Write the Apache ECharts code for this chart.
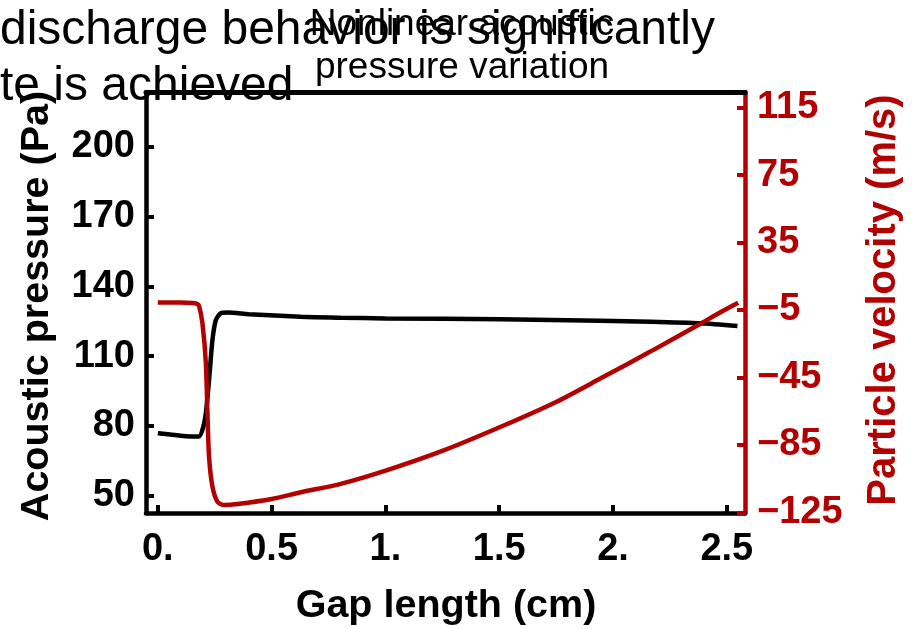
<!DOCTYPE html>
<html><head><meta charset="utf-8">
<script src="https://cdn.jsdelivr.net/npm/echarts@6/dist/echarts.min.js"></script>
<style>html,body{margin:0;padding:0;background:#fff}#c{width:918px;height:629px}</style>
</head><body><div id="c"></div>
<script>
// Gap length (cm) sample positions and acoustic pressure (Pa), left axis
const pressureX = [0, 0.1, 0.18, 0.2, 0.211, 0.225, 0.24, 0.255, 0.277, 0.306, 0.4, 0.628, 0.804, 1.0, 1.507, 1.946, 2.166, 2.386, 2.547];
const pressure  = [76.8, 75.8, 75.4, 79.7, 85.4, 99.7, 116.9, 125.5, 128.4, 128.7, 128.0, 126.9, 126.5, 126.2, 125.8, 125.2, 124.8, 124.1, 122.9];
// Particle velocity (m/s), right axis
const velocityX = [0, 0.1, 0.15, 0.17, 0.181, 0.196, 0.211, 0.218, 0.225, 0.24, 0.262, 0.291, 0.35, 0.5, 0.628, 0.804, 0.994, 1.25, 1.507, 1.75, 1.946, 2.166, 2.386, 2.47, 2.55];
const velocity  = [-0.6, -0.6, -0.8, -1.2, -2.5, -12.9, -36.4, -66.0, -91.9, -109.7, -118.6, -120.6, -120.0, -117.0, -113.0, -108.0, -100.5, -88.5, -74.2, -59.5, -45.5, -29.5, -13.0, -6.5, -0.7];
// Tick values
const xTicks = [0, 0.5, 1, 1.5, 2, 2.5];
const pTicks = [50, 80, 110, 140, 170, 200];
const vTicks = [-125, -85, -45, -5, 35, 75, 115];

const RED = '#b30000';
const FF = '"Liberation Sans", Arial, sans-serif';
const tickFont = {fontFamily: FF, fontWeight: 'bold', fontSize: 38};

const chart = echarts.init(document.getElementById('c'), null, {renderer: 'canvas'});
chart.setOption({
  animation: false,
  backgroundColor: '#fff',
  grid: {left: 146, right: 173, top: 92, bottom: 116, containLabel: false},
  xAxis: [{
    type: 'value', min: -0.052, max: 2.58, position: 'bottom',
    axisLine: {show: true, onZero: false, lineStyle: {color: '#000', width: 4.5}},
    axisTick: {show: true, inside: true, length: 8, lineStyle: {color: '#000', width: 4}, customValues: xTicks},
    axisLabel: Object.assign({color: '#000', margin: 18, customValues: xTicks,
      formatter: v => Number.isInteger(v) ? v + '.' : String(v)}, tickFont),
    splitLine: {show: false}
  }, {
    type: 'value', min: -0.052, max: 2.58, position: 'top',
    axisLine: {show: true, onZero: false, lineStyle: {color: '#000', width: 5}},
    axisTick: {show: false}, axisLabel: {show: false}, splitLine: {show: false}
  }],
  yAxis: [{
    type: 'value', min: 42.56, max: 223.5, position: 'left',
    axisLine: {show: true, onZero: false, lineStyle: {color: '#000', width: 4.5}},
    axisTick: {show: true, inside: true, length: 8, lineStyle: {color: '#000', width: 4}, customValues: pTicks},
    axisLabel: Object.assign({color: '#000', margin: 11, customValues: pTicks}, tickFont),
    splitLine: {show: false}
  }, {
    type: 'value', min: -125.3, max: 124.2, position: 'right',
    axisLine: {show: true, onZero: false, lineStyle: {color: RED, width: 4.5}},
    axisTick: {show: true, inside: true, length: 8, lineStyle: {color: RED, width: 4}, customValues: vTicks},
    axisLabel: Object.assign({color: RED, margin: 12, customValues: vTicks,
      formatter: v => String(v).replace('-', '\u2212')}, tickFont),
    splitLine: {show: false}
  }],
  series: [{
    name: 'Acoustic pressure', type: 'line', xAxisIndex: 0, yAxisIndex: 0,
    data: pressureX.map((x, i) => [x, pressure[i]]),
    showSymbol: false, smooth: 0.25,
    lineStyle: {color: '#000', width: 4.5}, itemStyle: {color: '#000'}
  }, {
    name: 'Particle velocity', type: 'line', xAxisIndex: 0, yAxisIndex: 1,
    data: velocityX.map((x, i) => [x, velocity[i]]),
    showSymbol: false, smooth: 0.25,
    lineStyle: {color: RED, width: 4.5}, itemStyle: {color: RED}
  }],
  graphic: [
    {type: 'text', x: 0, y: 30.5, z: 100, style: {text: 'discharge behavior is significantly', font: '48px ' + FF, fill: '#000', textAlign: 'left', textVerticalAlign: 'middle'}},
    {type: 'text', x: 0, y: 86.5, z: 100, style: {text: 'te is achieved', font: '48px ' + FF, fill: '#000', textAlign: 'left', textVerticalAlign: 'middle'}},
    {type: 'text', x: 462, y: 24.5, z: 100, style: {text: 'Nonlinear acoustic', font: '37px ' + FF, fill: '#000', textAlign: 'center', textVerticalAlign: 'middle'}},
    {type: 'text', x: 462, y: 67.5, z: 100, style: {text: 'pressure variation', font: '37px ' + FF, fill: '#000', textAlign: 'center', textVerticalAlign: 'middle'}},
    {type: 'text', x: 446, y: 606, z: 100, style: {text: 'Gap length (cm)', font: 'bold 39.5px ' + FF, fill: '#000', textAlign: 'center', textVerticalAlign: 'middle'}},
    {type: 'text', x: 37, y: 306, rotation: Math.PI / 2, z: 100, style: {text: 'Acoustic pressure (Pa)', font: 'bold 39.5px ' + FF, fill: '#000', textAlign: 'center', textVerticalAlign: 'middle'}},
    {type: 'text', x: 884, y: 300, rotation: Math.PI / 2, z: 100, style: {text: 'Particle velocity (m/s)', font: 'bold 40px ' + FF, fill: RED, textAlign: 'center', textVerticalAlign: 'middle'}}
  ]
});
</script></body></html>
